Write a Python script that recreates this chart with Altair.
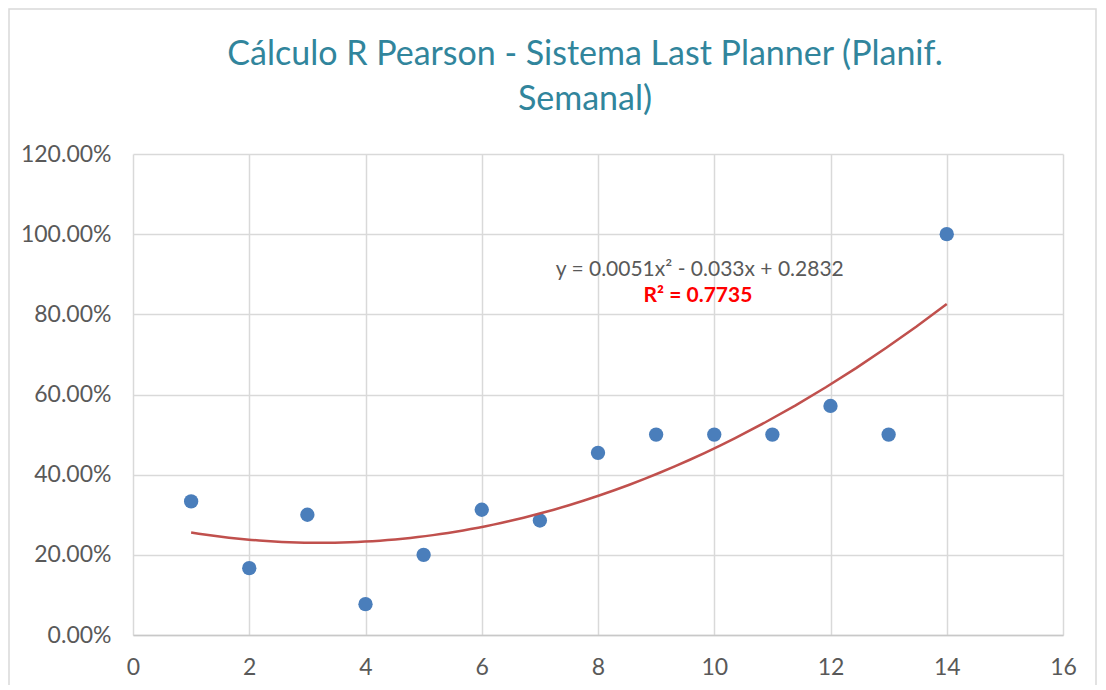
import altair as alt
import pandas as pd

semana = [1, 2, 3, 4, 5, 6, 7, 8, 9, 10, 11, 12, 13, 14]
ppc = [0.3333, 0.1667, 0.30, 0.0769, 0.20, 0.3125, 0.2857, 0.4545,
       0.50, 0.50, 0.50, 0.5714, 0.50, 1.00]
x_ticks = [0, 2, 4, 6, 8, 10, 12, 14, 16]
y_ticks = [0, 0.2, 0.4, 0.6, 0.8, 1.0, 1.2]
title_lines = ["Cálculo R Pearson - Sistema Last Planner (Planif.", "Semanal)"]
eq_text = ["y = 0.0051x² - 0.033x + 0.2832"]
r2_text = ["R² = 0.7735"]

df = pd.DataFrame({"x": semana, "y": ppc})

FONT = "Lato"
TXT = "#595959"

xs = alt.Scale(domain=[0, 16], nice=False, zero=False)
ys = alt.Scale(domain=[0, 1.2], nice=False)

x_enc = alt.X("x:Q", scale=xs, axis=alt.Axis(
    values=x_ticks, format="d", title=None, grid=True, gridColor="#D9D9D9",
    gridWidth=1.5, domainColor="#C8C8C8", domainWidth=1.5, ticks=False,
    labelFlush=False, labelPadding=21, labelFontSize=23, labelColor=TXT,
    labelFont=FONT))
y_enc = alt.Y("y:Q", scale=ys, axis=alt.Axis(
    values=y_ticks, format=".2%", title=None, grid=True, gridColor="#D9D9D9",
    gridWidth=1.5, domain=False, ticks=False, labelPadding=22,
    labelFontSize=23, labelColor=TXT, labelFont=FONT))

border = alt.Chart(pd.DataFrame({"a": [0]})).mark_rect(
    fill=None, stroke="#D9D9D9", strokeWidth=1.5
).encode(x=alt.value(-124), x2=alt.value(963), y=alt.value(-145), y2=alt.value(600))

points = alt.Chart(df).mark_circle(size=205, color="#4A7EBB", opacity=1).encode(
    x=x_enc, y=y_enc)

trend = alt.Chart(df).transform_regression(
    "x", "y", method="poly", order=2, extent=[1, 14]
).mark_line(color="#C0504D", strokeWidth=2.5).encode(x=x_enc, y=y_enc)

eq = alt.Chart(pd.DataFrame({"x": [9.75], "y": [0.91], "t": eq_text})).mark_text(
    font=FONT, fontSize=21, color=TXT, align="center", baseline="middle"
).encode(x=alt.X("x:Q", scale=xs), y=alt.Y("y:Q", scale=ys), text="t:N")

r2 = alt.Chart(pd.DataFrame({"x": [9.72], "y": [0.845], "t": r2_text})).mark_text(
    font=FONT, fontSize=21, color="#FF0000", fontWeight="bold", align="center",
    baseline="middle"
).encode(x=alt.X("x:Q", scale=xs), y=alt.Y("y:Q", scale=ys), text="t:N")

title_style = dict(font=FONT, fontSize=34, color="#31859C", align="center",
                   baseline="middle")
title1 = alt.Chart(pd.DataFrame({"a": [0]})).mark_text(**title_style).encode(
    x=alt.value(452), y=alt.value(-99), text=alt.value(title_lines[0]))
title2 = alt.Chart(pd.DataFrame({"a": [0]})).mark_text(**title_style).encode(
    x=alt.value(452), y=alt.value(-54), text=alt.value(title_lines[1]))

chart = alt.layer(border, points, trend, eq, r2, title1, title2).properties(
    width=930, height=481,
    autosize=alt.AutoSizeParams(type="none"),
    padding={"left": 125, "top": 146, "right": 35, "bottom": 50},
).configure_view(stroke=None)

chart.save("out.html", embed_options={"renderer": "svg", "actions": False})
